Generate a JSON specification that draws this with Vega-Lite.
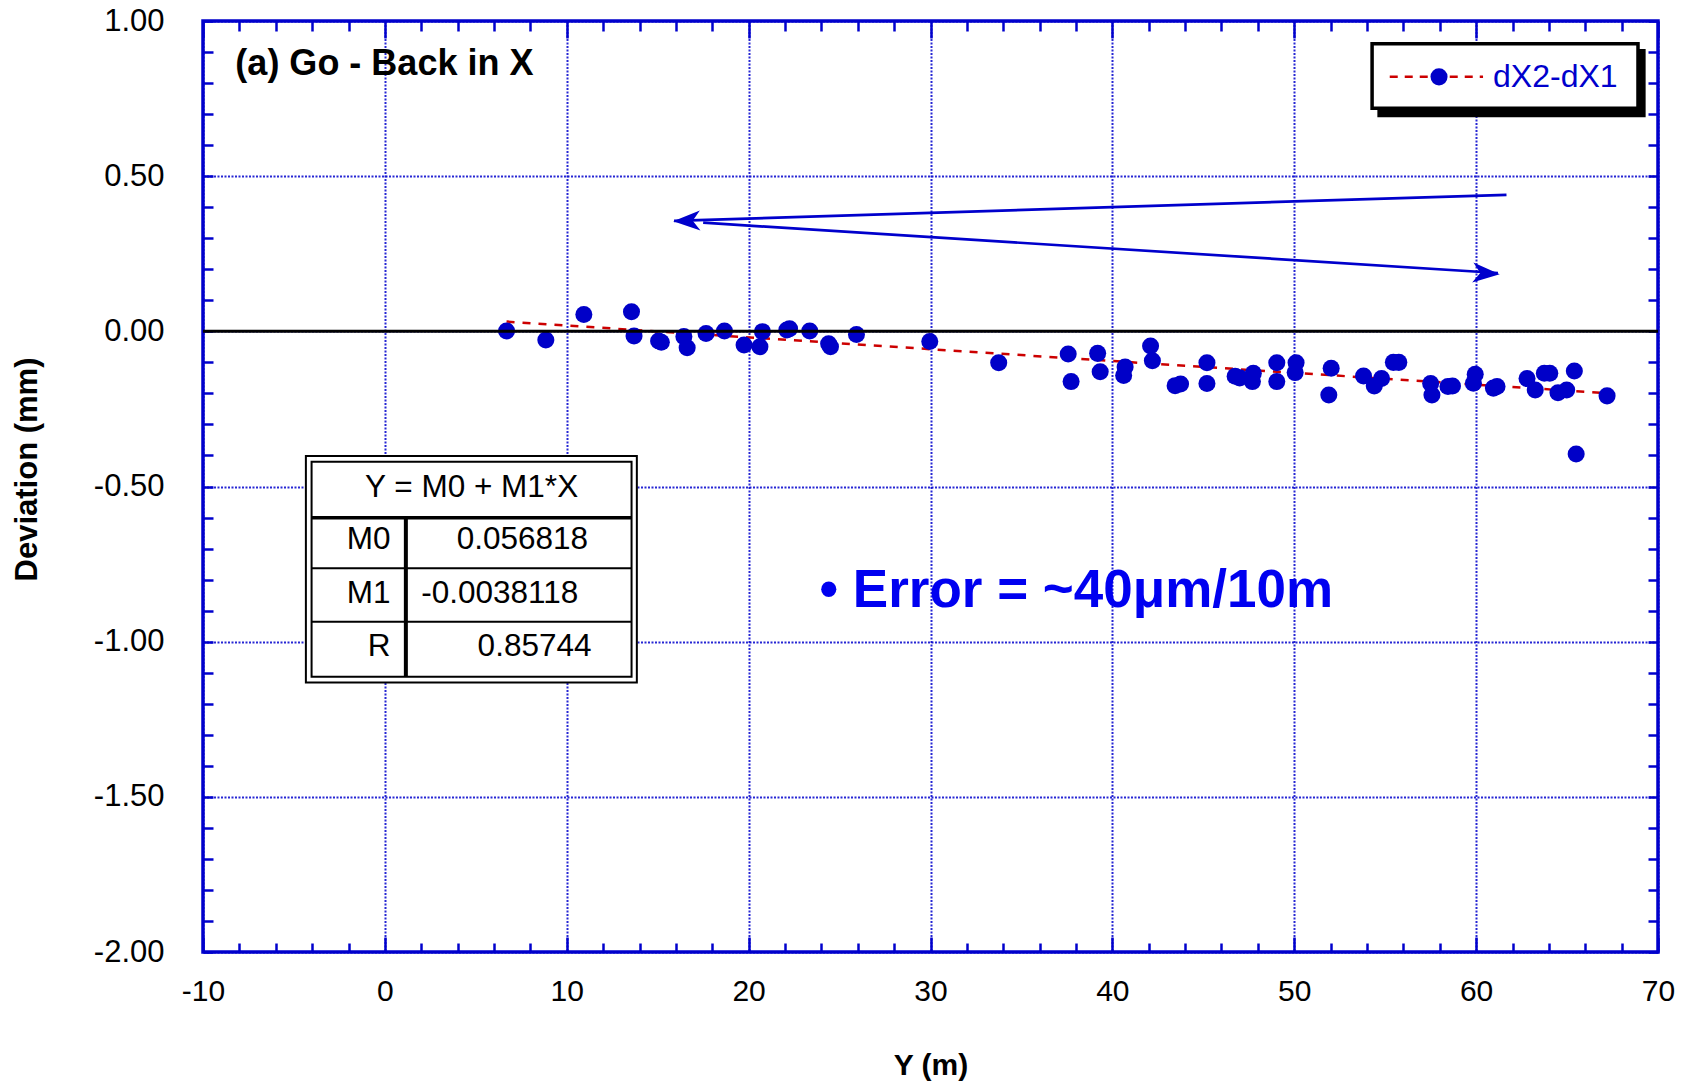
{
  "$schema": "https://vega.github.io/schema/vega-lite/v6.json",
  "width": 1455,
  "height": 931,
  "autosize": {"type": "none"},
  "padding": {"left": 203, "top": 21, "right": 34, "bottom": 132},
  "background": "white",
  "config": {
    "view": {"stroke": "#0000CC", "strokeWidth": 3.5},
    "font": "Liberation Sans",
    "text": {"font": "Liberation Sans"}
  },
  "datasets": {
    "pts": [
      {"x": 6.69, "y": 0.001}, {"x": 8.85, "y": -0.028}, {"x": 10.94, "y": 0.054}, {"x": 13.56, "y": 0.063},
      {"x": 13.7, "y": -0.015}, {"x": 15.05, "y": -0.031}, {"x": 15.2, "y": -0.035}, {"x": 16.44, "y": -0.017},
      {"x": 16.62, "y": -0.053}, {"x": 17.66, "y": -0.007}, {"x": 18.67, "y": 0.001}, {"x": 19.75, "y": -0.044},
      {"x": 20.62, "y": -0.05}, {"x": 20.76, "y": -0.001}, {"x": 22.1, "y": 0.004}, {"x": 22.25, "y": 0.008},
      {"x": 23.36, "y": 0.001}, {"x": 24.4, "y": -0.04}, {"x": 24.5, "y": -0.05}, {"x": 25.93, "y": -0.01},
      {"x": 29.96, "y": -0.033}, {"x": 33.75, "y": -0.101}, {"x": 37.57, "y": -0.073}, {"x": 37.73, "y": -0.162},
      {"x": 39.19, "y": -0.071}, {"x": 39.33, "y": -0.13}, {"x": 40.7, "y": -0.115}, {"x": 40.62, "y": -0.142},
      {"x": 42.1, "y": -0.047}, {"x": 42.2, "y": -0.095}, {"x": 43.45, "y": -0.175}, {"x": 43.75, "y": -0.17},
      {"x": 45.2, "y": -0.101}, {"x": 45.2, "y": -0.168}, {"x": 46.75, "y": -0.145}, {"x": 47.0, "y": -0.15},
      {"x": 47.75, "y": -0.135}, {"x": 47.7, "y": -0.162}, {"x": 49.04, "y": -0.101}, {"x": 49.04, "y": -0.162},
      {"x": 50.1, "y": -0.101}, {"x": 50.05, "y": -0.133}, {"x": 52.03, "y": -0.119}, {"x": 51.9, "y": -0.205},
      {"x": 53.81, "y": -0.144}, {"x": 54.4, "y": -0.176}, {"x": 54.8, "y": -0.152}, {"x": 55.45, "y": -0.1},
      {"x": 55.75, "y": -0.1}, {"x": 57.5, "y": -0.168}, {"x": 57.57, "y": -0.205}, {"x": 58.45, "y": -0.178},
      {"x": 58.7, "y": -0.176}, {"x": 59.85, "y": -0.167}, {"x": 59.95, "y": -0.138}, {"x": 60.95, "y": -0.183},
      {"x": 61.15, "y": -0.178}, {"x": 62.8, "y": -0.152}, {"x": 63.25, "y": -0.189}, {"x": 63.75, "y": -0.135},
      {"x": 64.05, "y": -0.135}, {"x": 64.5, "y": -0.198}, {"x": 64.98, "y": -0.189}, {"x": 65.4, "y": -0.128},
      {"x": 65.5, "y": -0.395}, {"x": 67.2, "y": -0.208}
    ],
    "fit": [
      {"x": 6.69, "y": 0.0313},
      {"x": 67.2, "y": -0.1993}
    ]
  },
  "layer": [
    {
      "data": {"name": "fit"},
      "mark": {"type": "line", "color": "#CC0000", "strokeWidth": 2.5, "strokeDash": [8, 8]},
      "encoding": {
        "x": {"field": "x", "type": "quantitative", "scale": {"domain": [-10, 70], "nice": false, "zero": false},
          "axis": {"orient": "top", "values": [-10,-8,-6,-4,-2,0,2,4,6,8,10,12,14,16,18,20,22,24,26,28,30,32,34,36,38,40,42,44,46,48,50,52,54,56,58,60,62,64,66,68,70],
            "labels": false, "grid": false, "domain": false, "ticks": true,
            "tickSize": {"condition": {"test": "datum.value % 10 == 0", "value": -17}, "value": -10},
            "tickColor": "#0000CC", "tickWidth": 2.5, "title": null}},
        "y": {"field": "y", "type": "quantitative", "scale": {"domain": [-2, 1], "nice": false, "zero": false},
          "axis": {"orient": "right", "values": [-2,-1.9,-1.8,-1.7,-1.6,-1.5,-1.4,-1.3,-1.2,-1.1,-1,-0.9,-0.8,-0.7,-0.6,-0.5,-0.4,-0.3,-0.2,-0.1,0,0.1,0.2,0.3,0.4,0.5,0.6,0.7,0.8,0.9,1],
            "labels": false, "grid": false, "domain": false, "ticks": true, "tickSize": -10, "tickColor": "#0000CC", "tickWidth": 2.5, "title": null}}
      }
    },
    {
      "data": {"name": "pts"},
      "mark": {"type": "point", "filled": true, "shape": "circle", "size": 290, "color": "#0000C8", "opacity": 1},
      "encoding": {
        "x": {"field": "x", "type": "quantitative", "scale": {"domain": [-10, 70], "nice": false, "zero": false},
          "axis": {"orient": "bottom", "values": [-10,-8,-6,-4,-2,0,2,4,6,8,10,12,14,16,18,20,22,24,26,28,30,32,34,36,38,40,42,44,46,48,50,52,54,56,58,60,62,64,66,68,70],
            "labelExpr": "datum.value % 10 == 0 ? replace(format(datum.value, 'd'), '\u2212', '-') : ''",
            "labelFont": "Liberation Sans", "labelFontSize": 30, "labelColor": "black", "labelFlush": false, "labelOverlap": false, "labelPadding": 39,
            "domain": false, "ticks": true,
            "tickSize": {"condition": {"test": "datum.value % 10 == 0", "value": -15}, "value": -9},
            "tickColor": "#0000CC", "tickWidth": 2.5,
            "grid": true, "gridColor": "#0000CC", "gridWidth": 2, "gridDash": [2, 1.5],
            "gridOpacity": {"condition": {"test": "datum.value % 10 == 0", "value": 0.85}, "value": 0},
            "title": "Y (m)", "titleFont": "Liberation Sans", "titleFontSize": 30, "titleFontWeight": "bold", "titleColor": "black",
            "titleX": 727.5, "titleY": 113, "titleBaseline": "middle", "titleAlign": "center"}},
        "y": {"field": "y", "type": "quantitative", "scale": {"domain": [-2, 1], "nice": false, "zero": false},
          "axis": {"orient": "left", "values": [-2,-1.9,-1.8,-1.7,-1.6,-1.5,-1.4,-1.3,-1.2,-1.1,-1,-0.9,-0.8,-0.7,-0.6,-0.5,-0.4,-0.3,-0.2,-0.1,0,0.1,0.2,0.3,0.4,0.5,0.6,0.7,0.8,0.9,1],
            "labelExpr": "abs(datum.value*2 - round(datum.value*2)) < 0.001 ? replace(format(datum.value, '.2f'), '\u2212', '-') : ''",
            "labelFont": "Liberation Sans", "labelFontSize": 31, "labelColor": "black", "labelFlush": false, "labelOverlap": false, "labelPadding": 49,
            "domain": false, "ticks": true, "tickSize": -10, "tickColor": "#0000CC", "tickWidth": 2.5,
            "grid": true, "gridColor": "#0000CC", "gridWidth": 2, "gridDash": [2, 1.5],
            "gridOpacity": {"condition": {"test": "abs(datum.value*2 - round(datum.value*2)) < 0.001", "value": 0.85}, "value": 0},
            "title": "Deviation (mm)", "titleFont": "Liberation Sans", "titleFontSize": 31, "titleFontWeight": "bold", "titleColor": "black",
            "titleAngle": -90, "titleX": -176, "titleY": 448, "titleBaseline": "middle", "titleAlign": "center"}}
      }
    },
    {
      "data": {"values": [{}]},
      "mark": {"type": "rule", "color": "black", "strokeWidth": 3},
      "encoding": {
        "y": {"datum": 0, "type": "quantitative", "scale": {"domain": [-2, 1], "nice": false, "zero": false}, "axis": null}
      }
    },
    {
      "data": {"values": [{}]},
      "mark": {"type": "rule", "color": "#0000CC", "strokeWidth": 2.7},
      "encoding": {
        "x": {"datum": 61.67, "type": "quantitative", "scale": {"domain": [-10, 70], "nice": false, "zero": false}, "axis": null},
        "x2": {"datum": 15.9},
        "y": {"datum": 0.44, "type": "quantitative", "scale": {"domain": [-2, 1], "nice": false, "zero": false}, "axis": null},
        "y2": {"datum": 0.356}
      }
    },
    {
      "data": {"values": [{}]},
      "mark": {"type": "rule", "color": "#0000CC", "strokeWidth": 2.7},
      "encoding": {
        "x": {"datum": 17.5, "type": "quantitative", "scale": {"domain": [-10, 70], "nice": false, "zero": false}, "axis": null},
        "x2": {"datum": 61.2},
        "y": {"datum": 0.35, "type": "quantitative", "scale": {"domain": [-2, 1], "nice": false, "zero": false}, "axis": null},
        "y2": {"datum": 0.188}
      }
    },
    {
      "data": {"values": [{}]},
      "mark": {"type": "point", "shape": "M-1,0L1,-0.74L0.45,0L1,0.74Z", "size": 729, "filled": true, "color": "#0000CC", "opacity": 1, "xOffset": 13.5, "angle": -1.8},
      "encoding": {
        "x": {"datum": 15.85, "type": "quantitative", "scale": {"domain": [-10, 70], "nice": false, "zero": false}, "axis": null},
        "y": {"datum": 0.356, "type": "quantitative", "scale": {"domain": [-2, 1], "nice": false, "zero": false}, "axis": null}
      }
    },
    {
      "data": {"values": [{}]},
      "mark": {"type": "point", "shape": "M1,0L-1,-0.74L-0.45,0L-1,0.74Z", "size": 729, "filled": true, "color": "#0000CC", "opacity": 1, "xOffset": -13.5, "angle": 3.6},
      "encoding": {
        "x": {"datum": 61.3, "type": "quantitative", "scale": {"domain": [-10, 70], "nice": false, "zero": false}, "axis": null},
        "y": {"datum": 0.187, "type": "quantitative", "scale": {"domain": [-2, 1], "nice": false, "zero": false}, "axis": null}
      }
    },
    {
      "data": {"values": [{}]},
      "mark": {"type": "text", "text": "(a) Go - Back in X", "fontSize": 36, "fontWeight": "bold", "color": "black", "align": "left", "baseline": "alphabetic"},
      "encoding": {
        "x": {"datum": -8.22, "type": "quantitative", "scale": {"domain": [-10, 70], "nice": false, "zero": false}, "axis": null},
        "y": {"datum": 0.826, "type": "quantitative", "scale": {"domain": [-2, 1], "nice": false, "zero": false}, "axis": null}
      }
    },
    {
      "data": {"values": [{}]},
      "mark": {"type": "text", "text": "\u2022 Error = ~40\u03bcm/10m", "fontSize": 53, "fontWeight": "bold", "color": "#0000F0", "align": "left", "baseline": "alphabetic"},
      "encoding": {
        "x": {"datum": 23.9, "type": "quantitative", "scale": {"domain": [-10, 70], "nice": false, "zero": false}, "axis": null},
        "y": {"datum": -0.888, "type": "quantitative", "scale": {"domain": [-2, 1], "nice": false, "zero": false}, "axis": null}
      }
    },
    {
      "data": {"values": [{}]},
      "mark": {"type": "rect", "fill": "white", "stroke": "black", "strokeWidth": 2},
      "encoding": {
        "x": {"datum": -4.343, "type": "quantitative", "scale": {"domain": [-10, 70], "nice": false, "zero": false}, "axis": null},
        "x2": {"datum": 13.854},
        "y": {"datum": -0.4019, "type": "quantitative", "scale": {"domain": [-2, 1], "nice": false, "zero": false}, "axis": null},
        "y2": {"datum": -1.1312}
      }
    },
    {
      "data": {"values": [{}]},
      "mark": {"type": "rect", "fill": "white", "fillOpacity": 0, "stroke": "black", "strokeWidth": 2},
      "encoding": {
        "x": {"datum": -4.03, "type": "quantitative", "scale": {"domain": [-10, 70], "nice": false, "zero": false}, "axis": null},
        "x2": {"datum": 13.563},
        "y": {"datum": -0.4202, "type": "quantitative", "scale": {"domain": [-2, 1], "nice": false, "zero": false}, "axis": null},
        "y2": {"datum": -1.1131}
      }
    },
    {
      "data": {"values": [{}]},
      "mark": {"type": "rule", "color": "black", "strokeWidth": 3.5},
      "encoding": {
        "x": {"datum": -4.03, "type": "quantitative", "scale": {"domain": [-10, 70], "nice": false, "zero": false}, "axis": null},
        "x2": {"datum": 13.563},
        "y": {"datum": -0.6007, "type": "quantitative", "scale": {"domain": [-2, 1], "nice": false, "zero": false}, "axis": null}
      }
    },
    {
      "data": {"values": [{}]},
      "mark": {"type": "rule", "color": "black", "strokeWidth": 2},
      "encoding": {
        "x": {"datum": -4.03, "type": "quantitative", "scale": {"domain": [-10, 70], "nice": false, "zero": false}, "axis": null},
        "x2": {"datum": 13.563},
        "y": {"datum": -0.7638, "type": "quantitative", "scale": {"domain": [-2, 1], "nice": false, "zero": false}, "axis": null}
      }
    },
    {
      "data": {"values": [{}]},
      "mark": {"type": "rule", "color": "black", "strokeWidth": 2},
      "encoding": {
        "x": {"datum": -4.03, "type": "quantitative", "scale": {"domain": [-10, 70], "nice": false, "zero": false}, "axis": null},
        "x2": {"datum": 13.563},
        "y": {"datum": -0.9359, "type": "quantitative", "scale": {"domain": [-2, 1], "nice": false, "zero": false}, "axis": null}
      }
    },
    {
      "data": {"values": [{}]},
      "mark": {"type": "rule", "color": "black", "strokeWidth": 4},
      "encoding": {
        "x": {"datum": 1.154, "type": "quantitative", "scale": {"domain": [-10, 70], "nice": false, "zero": false}, "axis": null},
        "y": {"datum": -0.6007, "type": "quantitative", "scale": {"domain": [-2, 1], "nice": false, "zero": false}, "axis": null},
        "y2": {"datum": -1.1131}
      }
    },
    {
      "data": {"values": [{}]},
      "mark": {"type": "text", "text": "Y = M0 + M1*X", "fontSize": 31.5, "color": "black", "align": "center", "baseline": "middle"},
      "encoding": {
        "x": {"datum": 4.77, "type": "quantitative", "scale": {"domain": [-10, 70], "nice": false, "zero": false}, "axis": null},
        "y": {"datum": -0.505, "type": "quantitative", "scale": {"domain": [-2, 1], "nice": false, "zero": false}, "axis": null}
      }
    },
    {
      "data": {"values": [{}]},
      "mark": {"type": "text", "text": "M0", "fontSize": 31.5, "color": "black", "align": "right", "baseline": "middle"},
      "encoding": {
        "x": {"datum": 0.31, "type": "quantitative", "scale": {"domain": [-10, 70], "nice": false, "zero": false}, "axis": null},
        "y": {"datum": -0.6726, "type": "quantitative", "scale": {"domain": [-2, 1], "nice": false, "zero": false}, "axis": null}
      }
    },
    {
      "data": {"values": [{}]},
      "mark": {"type": "text", "text": "M1", "fontSize": 31.5, "color": "black", "align": "right", "baseline": "middle"},
      "encoding": {
        "x": {"datum": 0.31, "type": "quantitative", "scale": {"domain": [-10, 70], "nice": false, "zero": false}, "axis": null},
        "y": {"datum": -0.8453, "type": "quantitative", "scale": {"domain": [-2, 1], "nice": false, "zero": false}, "axis": null}
      }
    },
    {
      "data": {"values": [{}]},
      "mark": {"type": "text", "text": "R", "fontSize": 31.5, "color": "black", "align": "right", "baseline": "middle"},
      "encoding": {
        "x": {"datum": 0.31, "type": "quantitative", "scale": {"domain": [-10, 70], "nice": false, "zero": false}, "axis": null},
        "y": {"datum": -1.0164, "type": "quantitative", "scale": {"domain": [-2, 1], "nice": false, "zero": false}, "axis": null}
      }
    },
    {
      "data": {"values": [{}]},
      "mark": {"type": "text", "text": "0.056818", "fontSize": 31.5, "color": "black", "align": "center", "baseline": "middle"},
      "encoding": {
        "x": {"datum": 7.56, "type": "quantitative", "scale": {"domain": [-10, 70], "nice": false, "zero": false}, "axis": null},
        "y": {"datum": -0.6726, "type": "quantitative", "scale": {"domain": [-2, 1], "nice": false, "zero": false}, "axis": null}
      }
    },
    {
      "data": {"values": [{}]},
      "mark": {"type": "text", "text": "-0.0038118", "fontSize": 31.5, "color": "black", "align": "center", "baseline": "middle"},
      "encoding": {
        "x": {"datum": 6.32, "type": "quantitative", "scale": {"domain": [-10, 70], "nice": false, "zero": false}, "axis": null},
        "y": {"datum": -0.8453, "type": "quantitative", "scale": {"domain": [-2, 1], "nice": false, "zero": false}, "axis": null}
      }
    },
    {
      "data": {"values": [{}]},
      "mark": {"type": "text", "text": "0.85744", "fontSize": 31.5, "color": "black", "align": "center", "baseline": "middle"},
      "encoding": {
        "x": {"datum": 8.23, "type": "quantitative", "scale": {"domain": [-10, 70], "nice": false, "zero": false}, "axis": null},
        "y": {"datum": -1.0164, "type": "quantitative", "scale": {"domain": [-2, 1], "nice": false, "zero": false}, "axis": null}
      }
    },
    {
      "data": {"values": [{}]},
      "mark": {"type": "rect", "fill": "black", "strokeWidth": 0},
      "encoding": {
        "x": {"datum": 54.57, "type": "quantitative", "scale": {"domain": [-10, 70], "nice": false, "zero": false}, "axis": null},
        "x2": {"datum": 69.32},
        "y": {"datum": 0.91, "type": "quantitative", "scale": {"domain": [-2, 1], "nice": false, "zero": false}, "axis": null},
        "y2": {"datum": 0.69}
      }
    },
    {
      "data": {"values": [{}]},
      "mark": {"type": "rect", "fill": "white", "stroke": "black", "strokeWidth": 3.5},
      "encoding": {
        "x": {"datum": 54.28, "type": "quantitative", "scale": {"domain": [-10, 70], "nice": false, "zero": false}, "axis": null},
        "x2": {"datum": 68.9},
        "y": {"datum": 0.927, "type": "quantitative", "scale": {"domain": [-2, 1], "nice": false, "zero": false}, "axis": null},
        "y2": {"datum": 0.719}
      }
    },
    {
      "data": {"values": [{}]},
      "mark": {"type": "rule", "color": "#CC0000", "strokeWidth": 2.5, "strokeDash": [8, 7]},
      "encoding": {
        "x": {"datum": 55.25, "type": "quantitative", "scale": {"domain": [-10, 70], "nice": false, "zero": false}, "axis": null},
        "x2": {"datum": 60.38},
        "y": {"datum": 0.82, "type": "quantitative", "scale": {"domain": [-2, 1], "nice": false, "zero": false}, "axis": null}
      }
    },
    {
      "data": {"values": [{}]},
      "mark": {"type": "point", "filled": true, "shape": "circle", "size": 290, "color": "#0000C8", "opacity": 1},
      "encoding": {
        "x": {"datum": 57.96, "type": "quantitative", "scale": {"domain": [-10, 70], "nice": false, "zero": false}, "axis": null},
        "y": {"datum": 0.82, "type": "quantitative", "scale": {"domain": [-2, 1], "nice": false, "zero": false}, "axis": null}
      }
    },
    {
      "data": {"values": [{}]},
      "mark": {"type": "text", "text": "dX2-dX1", "fontSize": 32, "color": "#0000CC", "align": "left", "baseline": "alphabetic"},
      "encoding": {
        "x": {"datum": 60.93, "type": "quantitative", "scale": {"domain": [-10, 70], "nice": false, "zero": false}, "axis": null},
        "y": {"datum": 0.786, "type": "quantitative", "scale": {"domain": [-2, 1], "nice": false, "zero": false}, "axis": null}
      }
    }
  ],
  "resolve": {"axis": {"x": "independent", "y": "independent"}}
}
